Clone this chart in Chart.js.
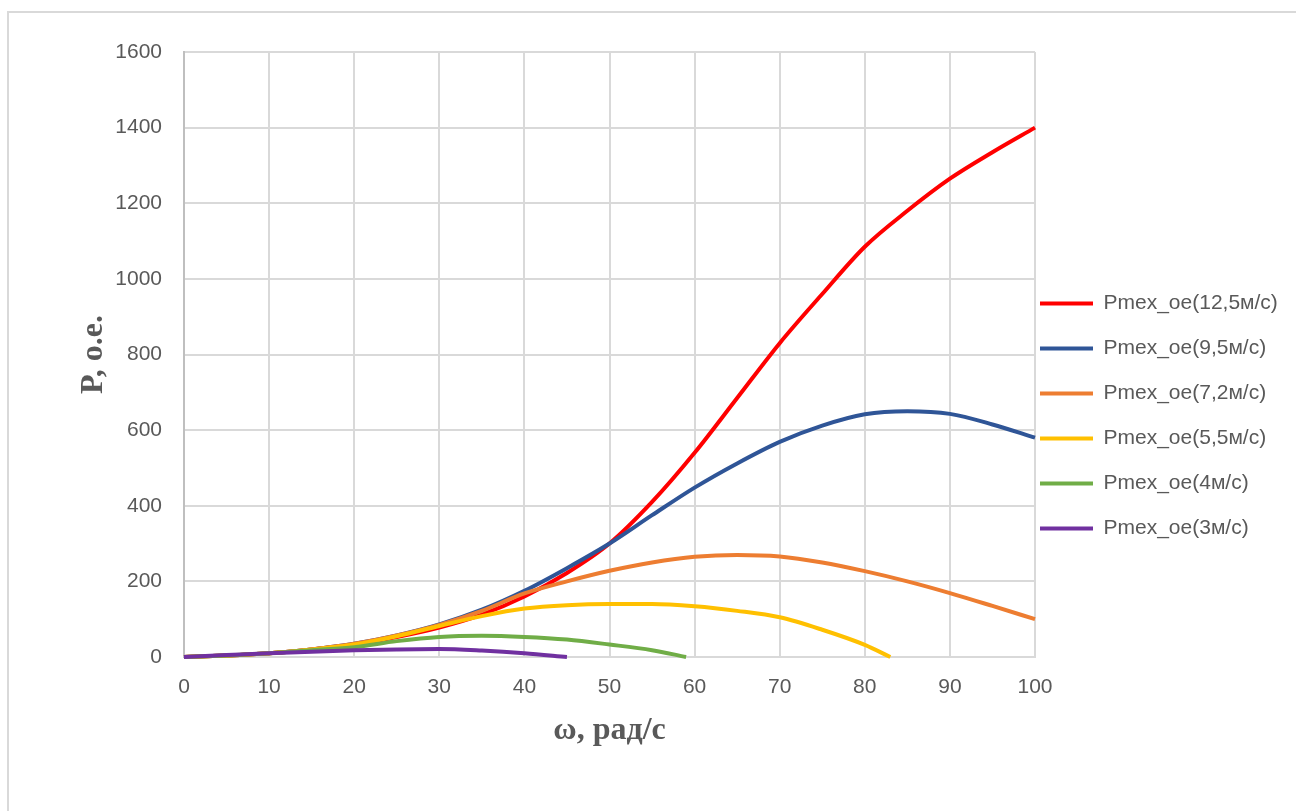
<!DOCTYPE html>
<html>
<head>
<meta charset="utf-8">
<script src="https://cdn.jsdelivr.net/npm/chart.js@4/dist/chart.umd.min.js"></script>
<style>
    html, body { margin: 0; padding: 0; background: #fff; }
    #wrap { position: relative; width: 1296px; height: 811px; overflow: hidden; }
    #frame { position: absolute; left: 7px; top: 11px; width: 1300px; height: 820px;
             border-left: 2px solid #d9d9d9; border-top: 2px solid #d9d9d9; }
    #chart { position: absolute; left: 0; top: 0; }
</style>
</head>
<body>
<div id="wrap">
    <div id="frame"></div>
    <canvas id="chart" width="1296" height="811"></canvas>
</div>
<script>
// Значения
const omega = [0, 5, 10, 15, 20, 25, 30, 35, 40, 45, 50, 55, 60, 65, 70, 75, 80, 85, 90, 95, 100];
const omega55 = [0, 5, 10, 15, 20, 25, 30, 35, 40, 45, 50, 55, 60, 65, 70, 75, 80, 83];
const omega4 = [0, 5, 10, 15, 20, 25, 30, 35, 40, 45, 50, 55, 59];
const omega3 = [0, 5, 10, 15, 20, 25, 30, 35, 40, 45];

const p125 = [0, 4, 10, 20, 33, 53, 78, 112, 160, 222, 300, 410, 540, 685, 830, 960, 1085, 1180, 1265, 1335, 1400];
const p95 = [0, 4, 10, 20, 35, 57, 86, 125, 175, 235, 300, 375, 448, 512, 569, 612, 642, 650, 643, 615, 580];
const p72 = [0, 4, 10, 20, 35, 57, 85, 122, 168, 200, 228, 250, 265, 270, 266, 250, 227, 200, 169, 135, 100];
const p55 = [0, 4, 10, 20, 33, 55, 82, 108, 128, 137, 140, 140, 134, 122, 105, 72, 32, 0];
const p4 = [0, 4, 10, 18, 26, 42, 53, 56, 53, 46, 33, 18, 0];
const p3 = [0, 5, 10, 14, 18, 20, 21, 17, 10, 0];

const labels = ['Pmex_oe(12,5м/с)', 'Pmex_oe(9,5м/с)', 'Pmex_oe(7,2м/с)', 'Pmex_oe(5,5м/с)', 'Pmex_oe(4м/с)', 'Pmex_oe(3м/с)'];
const colors = ['#ff0000', '#2f5597', '#ed7d31', '#ffc000', '#70ad47', '#7030a0'];
const xSets = [omega, omega, omega, omega55, omega4, omega3];
const ySets = [p125, p95, p72, p55, p4, p3];

const xTicks = { min: 0, max: 100, step: 10 };
const yTicks = { min: 0, max: 1600, step: 200 };

const textColor = '#595959';
const gridColor = '#d9d9d9';

// Сдвиг легенды на нужное место
const legendPlace = {
    id: 'legendPlace',
    afterLayout(chart) {
        const lg = chart.legend;
        if (!lg) return;
        const w = lg.width, h = lg.height;
        lg.left = 1040 - 24;
        lg.right = lg.left + w;
        lg.top = 269;
        lg.bottom = lg.top + h;
    }
};

const datasets = labels.map((name, i) => ({
    label: name,
    data: xSets[i].map((x, j) => ({ x: x, y: ySets[i][j] })),
    borderColor: colors[i],
    backgroundColor: colors[i],
    borderWidth: 4,
    pointRadius: 0,
    cubicInterpolationMode: 'monotone',
    clip: 6,
    order: labels.length - 1 - i
}));

new Chart(document.getElementById('chart'), {
    type: 'line',
    data: { datasets: datasets },
    plugins: [legendPlace],
    options: {
        responsive: false,
        animation: false,
        layout: { padding: { left: 71, top: 52, right: 261, bottom: 57 } },
        plugins: {
            tooltip: { enabled: false },
            legend: {
                position: 'chartArea',
                align: 'start',
                labels: {
                    boxWidth: 53,
                    boxHeight: 4,
                    padding: 24,
                    color: textColor,
                    font: { family: 'Liberation Sans', size: 21 },
                    sort: (a, b) => a.datasetIndex - b.datasetIndex,
                    generateLabels: function(chart) {
                        return Chart.defaults.plugins.legend.labels.generateLabels(chart)
                            .map(l => Object.assign(l, { lineWidth: 0 }));
                    }
                }
            }
        },
        scales: {
            x: {
                type: 'linear',
                min: xTicks.min,
                max: xTicks.max,
                afterFit: s => { s.height = 97; },
                ticks: {
                    stepSize: xTicks.step,
                    color: textColor,
                    padding: 18,
                    maxRotation: 0,
                    callback: v => String(v),
                    font: { family: 'Liberation Sans', size: 21 }
                },
                grid: { color: gridColor, lineWidth: 2, drawTicks: false },
                border: { color: gridColor, width: 2 },
                title: {
                    display: true,
                    text: 'ω, рад/с',
                    color: textColor,
                    padding: { top: 4, bottom: 4 },
                    font: { family: 'Liberation Serif', size: 32, weight: 'bold' }
                }
            },
            y: {
                min: yTicks.min,
                max: yTicks.max,
                afterFit: s => { s.width = 113; },
                ticks: {
                    stepSize: yTicks.step,
                    color: textColor,
                    padding: 22,
                    callback: v => String(v),
                    font: { family: 'Liberation Sans', size: 21 }
                },
                grid: { color: gridColor, lineWidth: 2, drawTicks: false },
                border: { color: '#bfbfbf', width: 2 },
                title: {
                    display: true,
                    text: 'P, о.е.',
                    color: textColor,
                    padding: { top: 4, bottom: 4 },
                    font: { family: 'Liberation Serif', size: 32, weight: 'bold' }
                }
            }
        }
    }
});
</script>
</body>
</html>
